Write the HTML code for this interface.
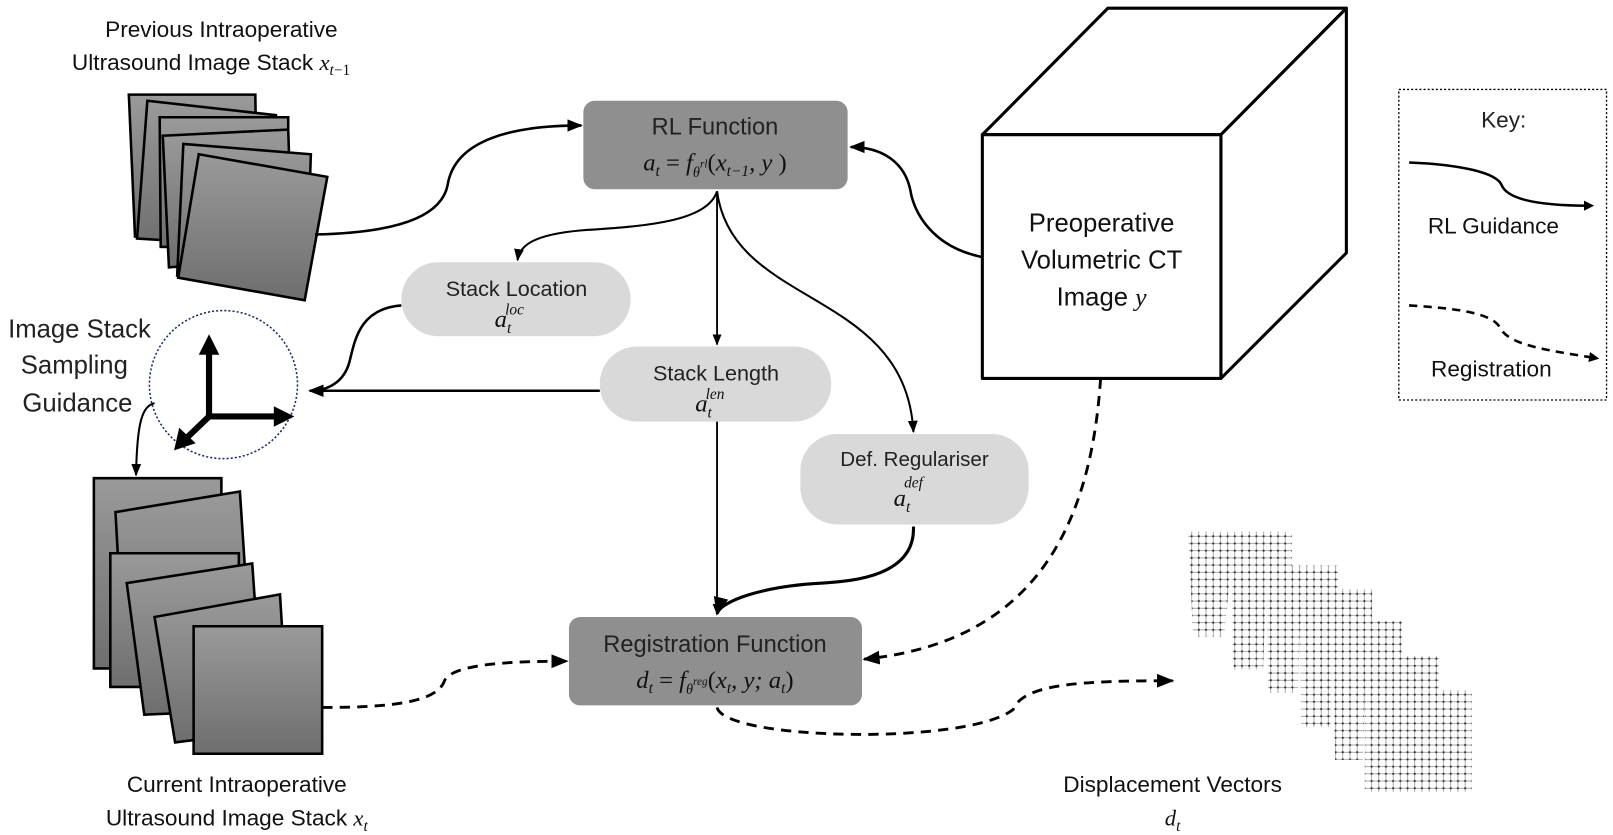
<!DOCTYPE html>
<html><head><meta charset="utf-8"><style>
html,body{margin:0;padding:0;background:#fff;}
svg{display:block}
.t{font-family:"Liberation Sans Narrow","Liberation Sans",sans-serif;fill:#111}
.c{font-family:"Liberation Sans Narrow","Liberation Sans",sans-serif;fill:#222}
.m{font-family:"Liberation Serif",serif;font-style:italic;fill:#111}
</style></head><body>
<svg width="1613" height="835" viewBox="0 0 1568 812" xmlns="http://www.w3.org/2000/svg">
<defs>
<linearGradient id="g" x1="0" y1="0" x2="0" y2="1"><stop offset="0" stop-color="#9a9a9a"/><stop offset="1" stop-color="#6e6e6e"/></linearGradient>
<marker id="a" viewBox="0 0 10 10" refX="9" refY="5" markerWidth="6" markerHeight="6" orient="auto"><path d="M0,1 L10,5 L0,9 z" fill="#000"/></marker>
<marker id="b" viewBox="0 0 10 10" refX="5" refY="5" markerWidth="4" markerHeight="4" orient="auto"><path d="M0,0 L10,5 L0,10 z" fill="#000"/></marker>
<pattern id="grid" width="7" height="7" patternUnits="userSpaceOnUse"><path d="M0,3.5 H7 M3.5,0 V7" stroke="#888" stroke-width="0.7"/><circle cx="3.5" cy="3.5" r="1.1" fill="#333"/></pattern>
</defs>

<text class="t" x="215" y="36" font-size="22" text-anchor="middle">Previous Intraoperative</text>
<text class="t" x="205" y="68" font-size="22" text-anchor="middle">Ultrasound Image Stack <tspan class="m">x</tspan><tspan class="m" font-size="15" dy="5">t</tspan><tspan font-size="15" class="m" style="font-style:normal">−1</tspan></text>

<g stroke="#000" stroke-width="2.5" fill="url(#g)">
<polygon points="125,92 248,92 250,225 131,230"/>
<polygon points="143,98 268,112 262,240 133,232"/>
<polygon points="155,114 280,114 280,242 156,240"/>
<polygon points="158,132 280,126 284,250 164,260"/>
<polygon points="178,140 302,150 298,270 172,268"/>
<polygon points="193,150 318,172 296,292 173,270"/>
</g>

<rect x="567" y="98" width="257" height="86" rx="11" fill="#8f8f8f"/>
<text class="c" x="695" y="131" font-size="23" text-anchor="middle">RL Function</text>
<text class="m" x="695" y="166" font-size="24" text-anchor="middle">a<tspan font-size="15" dy="5">t</tspan><tspan dy="-5" style="font-style:normal"> = </tspan>f<tspan font-size="14" dy="6">θ</tspan><tspan font-size="11" dy="-9">rl</tspan><tspan dy="3" style="font-style:normal">(</tspan>x<tspan font-size="15" dy="5">t−1</tspan><tspan dy="-5">, y </tspan><tspan style="font-style:normal">)</tspan></text>

<!-- cube -->
<g fill="#fff" stroke="#000" stroke-width="3" stroke-linejoin="round">
<polygon points="955,131 1077,8 1309,8 1187,131"/>
<polygon points="1187,131 1309,8 1309,246 1187,368"/>
<rect x="955" y="131" width="232" height="237"/>
</g>
<text x="1071" y="225" font-size="25" text-anchor="middle" class="t">Preoperative</text>
<text x="1071" y="261" font-size="25" text-anchor="middle" class="t">Volumetric CT</text>
<text x="1071" y="297" font-size="25" text-anchor="middle" class="t">Image <tspan class="m">y</tspan></text>

<rect x="1360" y="87" width="202" height="302" fill="none" stroke="#000" stroke-width="1.3" stroke-dasharray="2,2"/>
<text class="c" x="1462" y="124" font-size="22" text-anchor="middle">Key:</text>
<path d="M1370,158 C1420,160 1455,168 1460,180 C1466,195 1500,200 1545,200" fill="none" stroke="#000" stroke-width="2.5" marker-end="url(#b)"/>
<text class="t" x="1452" y="227" font-size="22" text-anchor="middle">RL Guidance</text>
<path d="M1370,297 C1420,300 1450,305 1458,318 C1466,335 1500,340 1550,348" fill="none" stroke="#000" stroke-width="2.5" stroke-dasharray="8,6" marker-end="url(#b)"/>
<text class="t" x="1450" y="366" font-size="22" text-anchor="middle">Registration</text>

<rect x="390" y="255" width="223" height="72" rx="36" fill="#d9d9d9"/>
<text class="c" x="502" y="288" font-size="21" text-anchor="middle">Stack Location</text>
<text class="m" x="495" y="318" font-size="24" text-anchor="middle">a<tspan font-size="15" dy="6">t</tspan><tspan font-size="15" dx="-6" dy="-18">loc</tspan></text>

<rect x="583" y="337" width="225" height="73" rx="36" fill="#d9d9d9"/>
<text class="c" x="696" y="370" font-size="21" text-anchor="middle">Stack Length</text>
<text class="m" x="690" y="400" font-size="24" text-anchor="middle">a<tspan font-size="15" dy="6">t</tspan><tspan font-size="15" dx="-6" dy="-18">len</tspan></text>

<rect x="778" y="422" width="222" height="88" rx="36" fill="#d9d9d9"/>
<text class="c" x="889" y="453" font-size="20" text-anchor="middle">Def. Regulariser</text>
<text class="m" x="883" y="492" font-size="24" text-anchor="middle">a<tspan font-size="15" dy="6">t</tspan><tspan font-size="15" dx="-6" dy="-24">def</tspan></text>

<rect x="553" y="600" width="285" height="86" rx="11" fill="#8f8f8f"/>
<text class="c" x="695" y="634" font-size="23" text-anchor="middle">Registration Function</text>
<text class="m" x="695" y="669" font-size="24" text-anchor="middle">d<tspan font-size="15" dy="5">t</tspan><tspan dy="-5" style="font-style:normal"> = </tspan>f<tspan font-size="14" dy="6">θ</tspan><tspan font-size="11" dy="-9">reg</tspan><tspan dy="3" style="font-style:normal">(</tspan>x<tspan font-size="15" dy="5">t</tspan><tspan dy="-5">, y; a</tspan><tspan font-size="15" dy="5">t</tspan><tspan dy="-5" style="font-style:normal">)</tspan></text>

<circle cx="217" cy="374" r="72" fill="none" stroke="#1a2a6a" stroke-width="1.5" stroke-dasharray="2,2"/>
<g stroke="#000" stroke-width="6" fill="none">
<line x1="203" y1="405" x2="203" y2="342"/>
<line x1="200" y1="405" x2="268" y2="405"/>
<line x1="203" y1="405" x2="180" y2="427"/>
</g>
<polygon points="203,325 193,345 213,345" fill="#000"/>
<polygon points="286,405 266,395 266,415" fill="#000"/>
<polygon points="169,438 174,416 190,431" fill="#000"/>
<text class="c" x="77" y="328" font-size="25" text-anchor="middle">Image Stack</text>
<text class="c" x="72" y="363" font-size="25" text-anchor="middle">Sampling</text>
<text class="c" x="75" y="400" font-size="25" text-anchor="middle">Guidance</text>

<g stroke="#000" stroke-width="2.5" fill="url(#g)">
<polygon points="91,465 215,465 215,650 91,650"/>
<polygon points="112,498 233,478 245,660 121,660"/>
<polygon points="107,538 232,538 232,668 107,668"/>
<polygon points="123,567 245,548 255,690 140,695"/>
<polygon points="150,600 272,578 280,708 170,722"/>
<polygon points="188,609 313,609 313,733 188,733"/>
</g>
<text class="t" x="230" y="770" font-size="22" text-anchor="middle">Current Intraoperative</text>
<text class="t" x="230" y="803" font-size="22" text-anchor="middle">Ultrasound Image Stack <tspan class="m">x</tspan><tspan class="m" font-size="15" dy="5">t</tspan></text>

<!-- displacement grids -->
<g>
<polygon points="1155,517 1256,517 1256,550 1197,550 1190,619 1160,619" fill="url(#grid)"/>
<polygon points="1197,550 1301,550 1301,573 1231,573 1228,651 1199,651" fill="#fff"/>
<polygon points="1197,550 1301,550 1301,573 1231,573 1228,651 1199,651" fill="url(#grid)"/>
<polygon points="1231,573 1334,573 1334,604 1264,604 1262,674 1233,674" fill="#fff"/>
<polygon points="1231,573 1334,573 1334,604 1264,604 1262,674 1233,674" fill="url(#grid)"/>
<polygon points="1264,604 1363,604 1363,638 1296,638 1294,707 1265,707" fill="#fff"/>
<polygon points="1264,604 1363,604 1363,638 1296,638 1294,707 1265,707" fill="url(#grid)"/>
<polygon points="1296,638 1399,638 1399,671 1327,671 1325,739 1298,739" fill="#fff"/>
<polygon points="1296,638 1399,638 1399,671 1327,671 1325,739 1298,739" fill="url(#grid)"/>
<rect x="1327" y="671" width="104" height="99" fill="#fff"/>
<rect x="1327" y="671" width="104" height="99" fill="url(#grid)"/>
</g>
<text class="t" x="1140" y="770" font-size="22" text-anchor="middle">Displacement Vectors</text>
<text class="m" x="1140" y="803" font-size="22" text-anchor="middle">d<tspan font-size="15" dy="5">t</tspan></text>

<g fill="none" stroke="#000" stroke-width="2.5">
<path d="M306,228 C400,226 430,205 435,180 C442,135 500,122 565,122" marker-end="url(#a)"/>
<path d="M955,250 C905,240 888,205 885,185 C880,160 860,143 827,143" marker-end="url(#a)"/>
<path d="M697,186 C688,215 630,220 565,224 C520,228 505,238 503,253" stroke-width="2" marker-end="url(#a)"/>
<path d="M697,186 L697,335" stroke-width="1.8" marker-end="url(#a)"/>
<path d="M697,186 C712,300 880,280 888,420" stroke-width="2" marker-end="url(#a)"/>
<path d="M390,297 C350,300 345,330 340,350 C335,372 318,380 301,380" marker-end="url(#a)"/>
<path d="M583,380 L301,380" marker-end="url(#a)"/>
<path d="M697,410 L697,597" stroke-width="1.8" marker-end="url(#a)"/>
<path d="M888,512 C890,560 830,565 800,567 C740,570 700,585 697,597" stroke-width="3" marker-end="url(#a)"/>
<path d="M150,392 C138,395 133,410 132,462" stroke-width="2" marker-end="url(#a)"/>
</g>
<g fill="none" stroke="#000" stroke-width="2.8" stroke-dasharray="10,7">
<path d="M313,688 C385,688 425,682 432,662 C440,645 500,643 551,643" marker-end="url(#a)"/>
<path d="M697,688 C705,720 940,725 985,690 C995,665 1050,662 1140,662" marker-end="url(#a)"/>
<path d="M1070,368 C1060,520 1000,625 840,641" marker-end="url(#a)"/>
</g>
</svg>
</body></html>
